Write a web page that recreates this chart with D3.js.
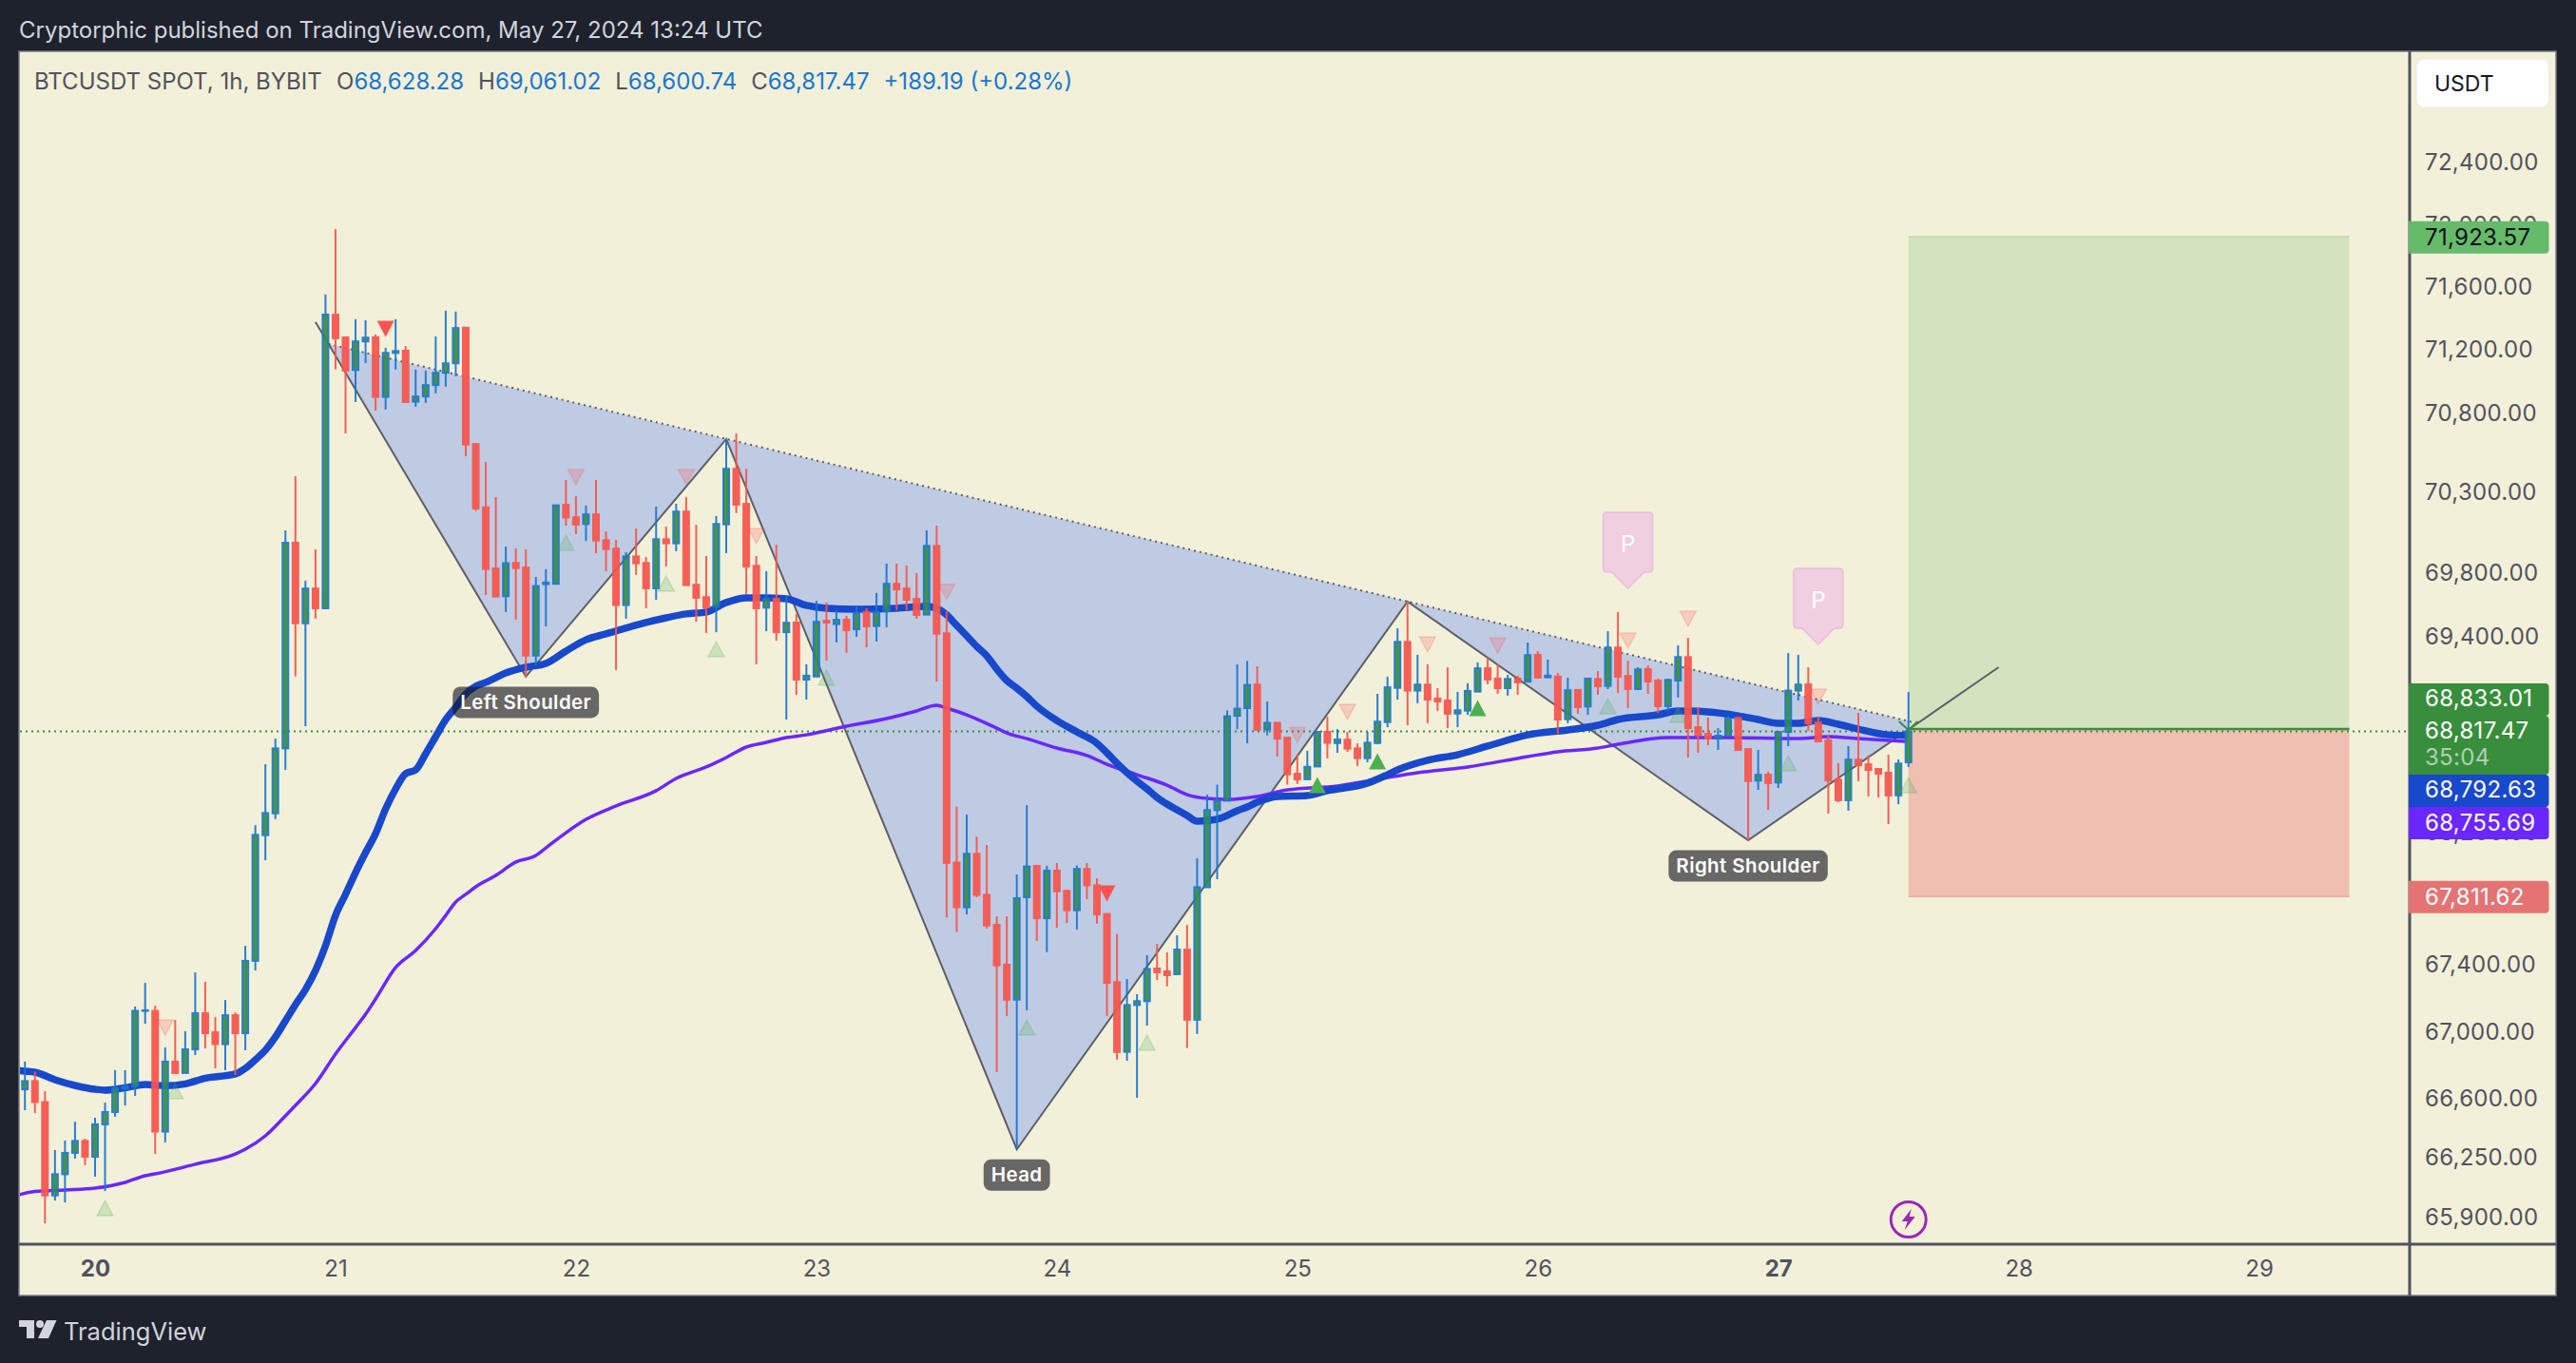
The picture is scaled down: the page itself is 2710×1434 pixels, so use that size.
<!DOCTYPE html>
<html>
<head>
<meta charset="utf-8">
<title>BTCUSDT 1h</title>
<script src="https://cdn.jsdelivr.net/npm/d3@7/dist/d3.min.js"></script>
<style>
    html, body { margin: 0; padding: 0; background: #1e222d; }
    svg { display: block; }
    text { font-family: Inter, "Noto Sans", sans-serif; }
</style>
</head>
<body>
<svg id="chart" width="2710" height="1434"></svg>
<script>
// Candles are hourly, index 0 is May 19 17:00 (hour -7 counted from May 20 00:00).
var firstHour = -7;

var opens = [
    66656,66705,66580,66028,66153,66279,66350,
    66256,66448,66521,66662,66673,67124,67124,66405,66821,66753,66894,67110,66996,66925,67098,66990,67424,68184,68317,68714,69986,69485,69701,69578,
    71424,71280,71073,71254,71280,70902,71181,71195,70872,70905,70977,71055,71115,71341,70605,70207,69826,69653,69860,69831,69285,69728,69730,70223,
    70145,70103,70163,70002,69949,69598,69901,69860,69702,70008,69982,70181,69724,69647,69588,70101,70449,70229,69842,69582,69637,69430,69490,69137,
    69156,69500,69480,69507,69448,69555,69468,69559,69730,69701,69636,69539,69966,69423,68018,67747,68071,67822,67641,67401,67191,67808,67998,67681,
    67969,67846,67729,67979,67880,67707,67296,66879,67159,67182,67378,67361,67344,67492,67071,67868,68337,68394,68914,68961,69106,68830,68871,68780,
    68559,68525,68603,68815,68747,68767,68714,68654,68747,68875,69086,69370,69069,69106,69020,69008,68928,68946,69063,69207,69143,69084,69143,69124,
    69290,69151,69155,68893,69073,68971,69141,69098,69335,69159,69079,69202,69131,68973,69131,69276,68844,68803,68774,68792,68901,68710,68517,68553,
    68505,68815,69069,69108,68873,68763,68524,68397,68645,68617,68588,68565,68427,68628.28
];
var highs = [
    66821,66761,66645,66296,66352,66464,66363,
    66487,66577,66770,66770,67150,67292,67155,66906,67070,67002,67355,67298,67087,67189,67115,67515,68245,68617,68774,70063,70403,69750,69945,71553,
    71972,71280,71395,71389,71298,71213,71395,71225,71075,71069,71286,71450,71444,71341,70605,70493,70272,69962,69951,69945,69773,69821,70220,70379,
    70278,70218,70379,70056,70004,69927,70075,69897,70212,70087,70230,70272,70099,69903,70153,70636,70672,70449,69903,69809,69974,69661,69543,69231,
    69625,69614,69566,69531,69596,69578,69673,69856,69856,69844,69797,70063,70093,69560,68359,68309,68176,68124,67692,67692,67946,68367,67998,67998,
    68015,67855,68000,68015,67923,67707,67586,67315,67224,67458,67526,67475,67578,67641,68044,68431,68492,68947,69231,69252,69219,69002,68871,68780,
    68679,68699,68821,68909,68832,68815,68745,68815,69049,69155,69454,69620,69290,69231,69084,69213,69061,69114,69243,69272,69231,69166,69161,69366,
    69313,69260,69178,69149,69073,69143,69190,69436,69555,69254,69213,69225,69143,69143,69348,69395,68967,68903,68838,68914,68909,68710,68704,68571,
    68815,69301,69290,69213,68909,68797,68623,68728,68932,68670,68594,68675,68646,69061.02
];
var lows = [
    66532,66515,65864,65998,65987,66245,66206,
    66138,66054,66493,66560,66617,67047,66273,66341,66747,66753,66860,66900,66781,66770,66741,66889,67366,68032,68282,68582,69156,68850,69513,69578,
    71077,70672,70870,71117,70816,70822,71075,70870,70840,70864,70925,70967,71033,70528,70184,69661,69651,69555,69507,69155,69225,69466,69730,70093,
    70040,69998,69921,69809,69196,69513,69785,69578,69631,69838,69933,69722,69495,69425,69430,69921,70171,69667,69231,69436,69377,68891,69043,69014,
    69156,69254,69366,69301,69401,69336,69372,69460,69566,69566,69513,69539,69125,67685,67598,67704,67808,67619,66758,67092,66300,67128,67544,67477,
    67623,67652,67612,67796,67648,67092,66832,66826,66606,67036,67309,67271,67344,66902,66986,67868,67917,68394,68832,68745,68828,68794,68665,68492,
    68496,68525,68600,68652,68687,68693,68606,68629,68739,68844,69014,68856,68991,68868,68944,68838,68844,68920,69063,69108,69049,69038,69043,69124,
    69149,69151,68803,68868,68926,68920,69043,69079,69055,68961,69073,69049,68932,68944,69026,68658,68687,68733,68704,68792,68704,68153,68460,68338,
    68472,68728,69008,68821,68757,68315,68385,68333,68513,68420,68414,68251,68373,68600.74
];
var closes = [
    66705,66580,66028,66153,66279,66350,66256,
    66448,66521,66662,66673,67124,67127,66405,66821,66753,66894,67110,66990,66925,67098,66990,67424,68186,68319,68714,69986,69485,69701,69578,71425,
    71274,71069,71254,71278,70902,71181,71193,70870,70905,70977,71055,71115,71339,70602,70201,69822,69651,69858,69828,69285,69716,69738,70220,70143,
    70099,70163,70000,69946,69598,69901,69858,69702,70008,69982,70181,69722,69643,69584,70103,70449,70224,69838,69578,69637,69430,69488,69137,69161,
    69494,69490,69506,69442,69550,69466,69555,69730,69696,69631,69537,69966,69420,68016,67747,68071,67822,67637,67397,67191,67802,67994,67681,67969,
    67844,67729,67979,67880,67704,67292,66878,67159,67182,67376,67355,67338,67492,67071,67868,68337,68394,68911,68958,69104,68828,68871,68774,68555,
    68524,68601,68815,68748,68768,68712,68654,68749,68878,69089,69370,69069,69106,69014,69002,68926,68948,69067,69206,69137,69084,69141,69120,69288,
    69149,69161,68891,69071,68967,69143,69096,69335,69155,69079,69200,69125,68973,69135,69276,68838,68797,68774,68792,68897,68704,68514,68552,68501,
    68815,69069,69106,68868,68757,68518,68397,68645,68611,68582,68559,68426,68621,68817.47
];

var fastHours = [-8,-7,-6,-4,-2,0,1,3,5,7,9,11,14,15,16,17,18,19,20,21,22,23,24,25,26,27,28,29,30,31,32,33,34,35,36,37,38,39,41,43,45,47,49,51,55,57,59,61,63,65,67,69,71,73,76,80,83,84,85,86,87,88,89,90,91,92,93,94,96,98,100,101,102,103,104,105,106,107,108,109,110,112,113,114,115,116,118,121,123,127,129,130,133,136,139,143,147,150,152,156,158,161,164,166,168,170,172,174,176,179,181];
var fastValues = [66770,66764,66758,66713,66679,66656,66651,66665,66685,66677,66688,66722,66747,66781,66832,66889,66968,67064,67161,67252,67366,67515,67698,67825,67957,68078,68193,68344,68466,68559,68582,68681,68786,68891,68967,69049,69096,69120,69178,69213,69237,69313,69383,69419,69490,69519,69543,69555,69614,69643,69643,69637,69596,69578,69572,69578,69590,69578,69537,69472,69407,69342,69284,69202,69131,69084,69032,68973,68885,68815,68745,68687,68623,68565,68513,68466,68414,68373,68338,68304,68269,68281,68304,68333,68356,68385,68420,68426,68455,68501,68553,68582,68641,68675,68728,68797,68827,68856,68891,68920,68944,68938,68914,68891,68868,68868,68885,68862,68832,68797,68792.63];
var slowHours = [-8,-6,-3,0,3,5,6,10,14,15,17,19,20,22,24,26,27,28,30,32,34,35,36,37,38,40,42,44,45,47,49,52,56,58,61,63,65,67,69,71,75,79,82,84,85,87,90,91,93,96,99,101,104,107,109,111,113,116,119,124,129,132,137,143,146,150,152,157,163,170,173,176,181];
var slowValues = [66026,66051,66060,66071,66105,66144,66155,66212,66273,66301,66380,66498,66560,66690,66866,67024,67104,67195,67384,67486,67618,67698,67779,67825,67871,67940,68021,68061,68107,68199,68280,68362,68455,68530,68600,68658,68722,68751,68780,68797,68850,68897,68944,68979,68961,68920,68838,68809,68774,68716,68670,68617,68553,68489,68431,68408,68402,68420,68460,68484,68536,68565,68600,68664,68693,68716,68739,68780,68780,68774,68786,68774,68755.69];

// Head and shoulders pivots
var pivotHours = [22,43,63,92,131,165,190];
var pivotPrices = [71377,69155,70636,66300,69620,68153,69213];
var neckHours = [23.3,181.9];
var neckPrices = [71238,68868];
var patternLabels = ["Left Shoulder","Head","Right Shoulder"];
var patternLabelHours = [43,92,165];
var patternLabelPrices = [69155,66300,68153];

// Signal triangles
var paleUpHours = [1,8,47,57,62,73,93,105,151,158,169,181];
var paleUpPrices = [65953,66645,69986,69732,69325,69149,67024,66934,68973,68920,68623,68489];
var solidUpHours = [122,128,138];
var solidUpPrices = [68489,68635,68961];
var paleDownHours = [7,48,59,66,85,120,125,133,140,153,159,172];
var paleDownPrices = [67024,70397,70397,70028,69679,68797,68938,69354,69348,69377,69513,69032];
var solidDownHours = [29,101];
var solidDownPrices = [71334,67831];
var flagHours = [153,172];
var flagPrices = [69702,69354];

// Long position tool
var positionHours = [181,225];
var entryPrice = 68833.01;
var targetPrice = 71923.57;
var stopPrice = 67811.62;
var lastPrice = 68817.47;

var dayTicks = [0,24,48,72,96,120,144,168,192,216];
var dayLabels = ["20","21","22","23","24","25","26","27","28","29"];
var boldDays = ["20","27"];
var priceTicks = [72400,72000,71600,71200,70800,70300,69800,69400,68200,67400,67000,66600,66250,65900];

var legendName = "BTCUSDT SPOT, 1h, BYBIT";
var legendKeys = ["O","H","L","C"];
var legendValues = ["68,628.28","69,061.02","68,600.74","68,817.47"];
var legendChange = "+189.19 (+0.28%)";


var paneLeft = 21, paneRight = 2535, paneTop = 55, paneBottom = 1309, frameRight = 2689, frameBottom = 1363;

var colors = {
    page: "#1e222d", pane: "#f3f0d9", axisLine: "#50535e", axisText: "#50535e",
    up: "#388e3c", upEdge: "#1976d2", down: "#f7554d",
    fast: "#1848cc", slow: "#6a27ff", pattern: "#bfcbe3", patternLine: "#5d5f66",
    target: "#d3e3bf", stop: "#efbfb2"
};

var x = d3.scaleLinear().domain([0, 216]).range([100, 100 + 216 * 10.54]);
var y = d3.scaleLog().domain([72400, 65900]).range([171, 1280.6]);

var svg = d3.select("#chart");

svg.append("rect").attr("width", 2710).attr("height", 1434).attr("fill", colors.page);

svg.append("text")
    .attr("x", 20).attr("y", 40)
    .attr("fill", "#d1d4dc")
    .style("font-size", "24px")
    .text("Cryptorphic published on TradingView.com, May 27, 2024 13:24 UTC");

svg.append("rect")
    .attr("x", 20).attr("y", 54)
    .attr("width", frameRight - 20).attr("height", frameBottom - 54)
    .attr("fill", colors.pane)
    .attr("stroke", "#787b86").attr("stroke-width", 1.5);

svg.append("clipPath").attr("id", "pane")
    .append("rect")
    .attr("x", paneLeft).attr("y", paneTop)
    .attr("width", paneRight - paneLeft).attr("height", paneBottom - paneTop);

var pane = svg.append("g").attr("clip-path", "url(#pane)");

function point(hour, price) {
    return [x(hour), y(price)];
}

// Pattern fill, one triangle per leg pair, closed along the neckline
var fillTriangles = [
    [point(neckHours[0], neckPrices[0]), point(pivotHours[1], pivotPrices[1]), point(pivotHours[2], pivotPrices[2])],
    [point(pivotHours[2], pivotPrices[2]), point(pivotHours[3], pivotPrices[3]), point(pivotHours[4], pivotPrices[4])],
    [point(pivotHours[4], pivotPrices[4]), point(pivotHours[5], pivotPrices[5]), point(neckHours[1], neckPrices[1])]
];

pane.selectAll(".pattern-fill")
    .data(fillTriangles)
    .enter()
    .append("path")
    .attr("class", "pattern-fill")
    .attr("fill", colors.pattern)
    .attr("d", function(d) { return d3.line()(d) + "Z"; });

// Position tool
pane.append("rect")
    .attr("x", x(positionHours[0])).attr("width", x(positionHours[1]) - x(positionHours[0]))
    .attr("y", y(targetPrice)).attr("height", y(entryPrice) - y(targetPrice))
    .attr("fill", colors.target);
pane.append("rect")
    .attr("x", x(positionHours[0])).attr("width", x(positionHours[1]) - x(positionHours[0]))
    .attr("y", y(entryPrice)).attr("height", y(stopPrice) - y(entryPrice))
    .attr("fill", colors.stop);
pane.append("line")
    .attr("x1", x(positionHours[0])).attr("x2", x(positionHours[1]))
    .attr("y1", y(targetPrice)).attr("y2", y(targetPrice))
    .attr("stroke", "#bcdcaa").attr("stroke-width", 1.5);
pane.append("line")
    .attr("x1", x(positionHours[0])).attr("x2", x(positionHours[1]))
    .attr("y1", y(stopPrice)).attr("y2", y(stopPrice))
    .attr("stroke", "#eda99c").attr("stroke-width", 1.5);
pane.append("line")
    .attr("x1", x(positionHours[0])).attr("x2", x(positionHours[1]))
    .attr("y1", y(entryPrice)).attr("y2", y(entryPrice))
    .attr("stroke", colors.up).attr("stroke-width", 2.5);

// Pattern outline
pane.append("path")
    .attr("fill", "none")
    .attr("stroke", colors.patternLine)
    .attr("stroke-width", 2)
    .attr("d", d3.line()(pivotHours.map(function(h, i) { return point(h, pivotPrices[i]); })));

pane.append("line")
    .attr("x1", x(neckHours[0])).attr("y1", y(neckPrices[0]))
    .attr("x2", x(neckHours[1])).attr("y2", y(neckPrices[1]))
    .attr("stroke", colors.patternLine)
    .attr("stroke-width", 2)
    .attr("stroke-dasharray", "2,4");

// Last price line
pane.append("line")
    .attr("x1", paneLeft).attr("x2", paneRight)
    .attr("y1", y(lastPrice)).attr("y2", y(lastPrice))
    .attr("stroke", colors.up)
    .attr("stroke-width", 2)
    .attr("stroke-dasharray", "2,4");

// Moving averages
var emaLine = d3.line()
    .x(function(d) { return x(d[0]); })
    .y(function(d) { return y(d[1]); })
    .curve(d3.curveMonotoneX);

pane.append("path")
    .attr("fill", "none")
    .attr("stroke", colors.slow)
    .attr("stroke-width", 3.5)
    .attr("d", emaLine(d3.zip(slowHours, slowValues)));

pane.append("path")
    .attr("fill", "none")
    .attr("stroke", colors.fast)
    .attr("stroke-width", 7.5)
    .attr("d", emaLine(d3.zip(fastHours, fastValues)));

// Candles
var candles = opens.map(function(open, i) {
    return { hour: firstHour + i, open: open, high: highs[i], low: lows[i], close: closes[i] };
});

var candle = pane.selectAll(".candle")
    .data(candles)
    .enter()
    .append("g")
    .attr("class", "candle")
    .attr("opacity", 0.93);

candle.append("line")
    .attr("x1", function(d) { return x(d.hour); })
    .attr("x2", function(d) { return x(d.hour); })
    .attr("y1", function(d) { return y(d.high); })
    .attr("y2", function(d) { return y(d.low); })
    .attr("stroke-width", 2)
    .attr("stroke", function(d) { return d.close >= d.open ? colors.upEdge : colors.down; });

candle.append("rect")
    .attr("x", function(d) { return x(d.hour) - 3; })
    .attr("width", 6)
    .attr("y", function(d) { return y(Math.max(d.open, d.close)); })
    .attr("height", function(d) { return Math.max(0.5, Math.abs(y(d.open) - y(d.close))); })
    .attr("stroke-width", 2)
    .attr("fill", function(d) { return d.close >= d.open ? colors.up : colors.down; })
    .attr("stroke", function(d) { return d.close >= d.open ? colors.upEdge : colors.down; });

// Triangles
function drawTriangles(hours, prices, shape, fill, opacity) {
    pane.selectAll(null)
        .data(d3.zip(hours, prices))
        .enter()
        .append("path")
        .attr("d", shape)
        .attr("transform", function(d) { return "translate(" + x(d[0]) + "," + y(d[1]) + ")"; })
        .attr("fill", fill)
        .attr("fill-opacity", opacity)
        .attr("stroke", fill)
        .attr("stroke-opacity", opacity)
        .attr("stroke-width", opacity < 1 ? 1.5 : 0);
}

var upShape = "M-8.5,8L0,-8L8.5,8Z";
var downShape = "M-8.5,-8L0,8L8.5,-8Z";
drawTriangles(paleUpHours, paleUpPrices, upShape, "#4caf50", 0.22);
drawTriangles(paleDownHours, paleDownPrices, downShape, "#ff5252", 0.22);
drawTriangles(solidUpHours, solidUpPrices, "M-9,8.5L0,-8.5L9,8.5Z", "#4caf50", 1);
drawTriangles(solidDownHours, solidDownPrices, "M-9,-8.5L0,8.5L9,-8.5Z", "#ff5252", 1);

// Pivot labels
patternLabels.forEach(function(label, i) {
    var cx = x(patternLabelHours[i]);
    var cy = y(patternLabelPrices[i]) + 27;
    var tag = pane.append("g");
    var rect = tag.append("rect")
        .attr("fill", "#141622").attr("fill-opacity", 0.63)
        .attr("rx", 8).attr("ry", 8);
    var txt = tag.append("text")
        .attr("x", cx).attr("y", cy + 7)
        .attr("text-anchor", "middle")
        .attr("fill", "#ffffff")
        .style("font-size", "20.5px")
        .style("font-weight", 600)
        .style("letter-spacing", "0.4px")
        .text(label);
    var w = txt.node().getComputedTextLength() + 16;
    rect.attr("x", cx - w / 2).attr("y", cy - 16.5).attr("width", w).attr("height", 33);
});

// P flags
pane.selectAll(".flag")
    .data(d3.zip(flagHours, flagPrices))
    .enter()
    .append("g")
    .attr("class", "flag")
    .attr("transform", function(d) { return "translate(" + x(d[0]) + "," + y(d[1]) + ")"; })
    .each(function() {
        var g = d3.select(this);
        g.append("path")
            .attr("d", "M-22,-80H22Q26,-80 26,-76V-21Q26,-17 22,-17H17L0,0L-17,-17H-22Q-26,-17 -26,-21V-76Q-26,-80 -22,-80Z")
            .attr("fill", "#efcfe0")
            .attr("stroke", "#ecbbe0")
            .attr("stroke-width", 1.5);
        g.append("text")
            .attr("y", -38)
            .attr("text-anchor", "middle")
            .attr("fill", "#ffffff")
            .style("font-size", "24px")
            .text("P");
    });

// Small green arrow head on the last candle
pane.append("path")
    .attr("d", "M-10,-8L0,1L10,-8")
    .attr("transform", "translate(" + x(181) + "," + y(entryPrice) + ")")
    .attr("fill", "none")
    .attr("stroke", colors.up)
    .attr("stroke-width", 2);

// Bolt badge
var bolt = pane.append("g").attr("transform", "translate(" + x(181) + ",1283)");
bolt.append("circle").attr("r", 20.5).attr("fill", "#ffffff");
bolt.append("circle").attr("r", 18.5).attr("fill", colors.pane).attr("stroke", "#9c27b0").attr("stroke-width", 3);
bolt.append("path").attr("d", "M3,-11L-7,2H-1L-4,11L7,-3H1Z").attr("fill", "#9c27b0");

// Legend
var legend = svg.append("text")
    .attr("x", 36).attr("y", 94)
    .attr("fill", colors.axisText)
    .style("font-size", "24px");
legend.append("tspan").text(legendName);
legendKeys.forEach(function(key, i) {
    legend.append("tspan").attr("dx", i === 0 ? 16 : 15).text(key);
    legend.append("tspan").attr("fill", "#1976d2").text(legendValues[i]);
});
legend.append("tspan").attr("dx", 15).attr("fill", "#1976d2").text(legendChange);

// Axes
var priceAxis = d3.axisRight(y)
    .tickValues(priceTicks)
    .tickFormat(d3.format(",.2f"))
    .tickSize(0)
    .tickPadding(16);

var priceAxisG = svg.append("g")
    .attr("transform", "translate(" + paneRight + ",0)")
    .call(priceAxis);
priceAxisG.select(".domain").remove();
priceAxisG.selectAll("text")
    .attr("fill", colors.axisText)
    .style("font-family", "Inter, sans-serif")
    .style("font-size", "24px")
    .style("letter-spacing", "0.3px");

var dayAxis = d3.axisBottom(x)
    .tickValues(dayTicks)
    .tickFormat(function(d, i) { return dayLabels[i]; })
    .tickSize(0)
    .tickPadding(17);

var dayAxisG = svg.append("g")
    .attr("transform", "translate(0," + paneBottom + ")")
    .call(dayAxis);
dayAxisG.select(".domain").remove();
dayAxisG.selectAll("text")
    .attr("fill", colors.axisText)
    .style("font-family", "Inter, sans-serif")
    .style("font-size", "24px")
    .style("font-weight", function(d, i) { return boldDays.indexOf(dayLabels[i]) >= 0 ? 700 : 400; });

svg.append("line")
    .attr("x1", 20).attr("x2", frameRight)
    .attr("y1", paneBottom).attr("y2", paneBottom)
    .attr("stroke", colors.axisLine).attr("stroke-width", 3);
svg.append("line")
    .attr("x1", paneRight).attr("x2", paneRight)
    .attr("y1", 54).attr("y2", frameBottom)
    .attr("stroke", colors.axisLine).attr("stroke-width", 3);

// Currency button
svg.append("rect")
    .attr("x", 2542).attr("y", 62).attr("width", 139.5).attr("height", 51)
    .attr("rx", 8).attr("ry", 8)
    .attr("fill", "#ffffff").attr("stroke", "#e8e9ec");
svg.append("text")
    .attr("x", 2561).attr("y", 96)
    .attr("fill", "#131722")
    .style("font-size", "23px")
    .text("USDT");

// Price tags on the axis, the backgrounds cover the ticks behind them
var tagTops = [232.7, 719, 753, 815, 849, 926.7];
var tagHeights = [34, 34, 62, 34, 34, 34];
var tagFills = ["#66bb6a", colors.up, colors.up, colors.fast, colors.slow, "#e57373"];
var tagLabels = ["71,923.57", "68,833.01", "68,817.47", "35:04", "68,792.63", "68,755.69", "67,811.62"];
var tagBaselines = [258, 742.5, 776.5, 805, 839, 873.5, 952];
var tagColors = ["#0b0f17", "#ffffff", "#ffffff", "#ffffff", "#ffffff", "#ffffff", "#ffffff"];
var tagOpacities = [1, 1, 1, 0.6, 1, 1, 1];

svg.selectAll(".tag")
    .data(tagTops)
    .enter()
    .append("path")
    .attr("class", "tag")
    .attr("fill", function(d, i) { return tagFills[i]; })
    .attr("d", function(top, i) {
        var bottom = top + tagHeights[i];
        return "M2534," + top + "H2677.5Q2681.5," + top + " 2681.5," + (top + 4)
            + "V" + (bottom - 4) + "Q2681.5," + bottom + " 2677.5," + bottom + "H2534Z";
    });

svg.selectAll(".tag-label")
    .data(tagLabels)
    .enter()
    .append("text")
    .attr("class", "tag-label")
    .attr("x", 2551)
    .attr("y", function(d, i) { return tagBaselines[i]; })
    .attr("fill", function(d, i) { return tagColors[i]; })
    .attr("fill-opacity", function(d, i) { return tagOpacities[i]; })
    .style("font-size", "24px")
    .style("letter-spacing", "0.3px")
    .text(function(d) { return d; });

// Logo
var logo = svg.append("g").attr("transform", "translate(20,1389)").attr("fill", "#d1d4dc");
logo.append("path").attr("d", "M0,0H16V19H8V7H0Z");
logo.append("circle").attr("cx", 22).attr("cy", 4).attr("r", 4);
logo.append("path").attr("d", "M29,0H39.5L31,19H20Z");

svg.append("text")
    .attr("x", 67).attr("y", 1410)
    .attr("fill", "#d1d4dc")
    .style("font-size", "25.5px")
    .text("TradingView");
</script>
</body>
</html>
